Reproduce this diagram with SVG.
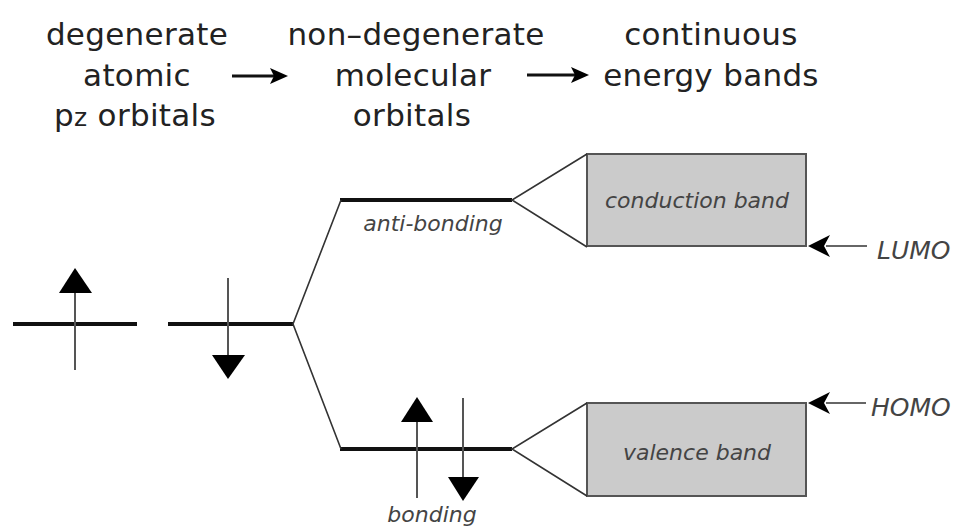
<svg xmlns="http://www.w3.org/2000/svg" width="962" height="529" viewBox="0 0 962 529">
<style>
.hdr{font-family:"DejaVu Sans",sans-serif;font-size:31px;fill:#222;text-anchor:middle;letter-spacing:0.3px}
.lbl{font-family:"DejaVu Sans",sans-serif;font-style:italic;font-size:22px;fill:#444;text-anchor:middle}
.side{font-family:"DejaVu Sans",sans-serif;font-style:italic;font-size:25px;fill:#444}
.level{stroke:#111;stroke-width:4;fill:none}
.thin{stroke:#333;stroke-width:1.6;fill:none}
.spin{stroke:#555;stroke-width:2;fill:none}
.head{fill:#000}
.band{fill:#cbcbcb;stroke:#555;stroke-width:2}
.harrow{stroke:#111;stroke-width:2.8;fill:none}
</style>
<rect width="962" height="529" fill="#fff"/>
<g id="header-atomic">
<text class="hdr" x="137" y="45">degenerate</text>
<text class="hdr" x="137" y="86">atomic</text>
<text class="hdr" x="135" y="126">p<tspan font-size="25">z</tspan> orbitals</text>
</g>
<g id="header-molecular">
<text class="hdr" x="416" y="45">non–degenerate</text>
<text class="hdr" x="413" y="86">molecular</text>
<text class="hdr" x="412" y="126">orbitals</text>
</g>
<g id="header-bands">
<text class="hdr" x="711" y="45">continuous</text>
<text class="hdr" x="711" y="86">energy bands</text>
</g>
<g id="header-arrows">
<line class="harrow" x1="232" y1="76" x2="276" y2="76"/>
<path class="head" d="M288,76 L270,68 L274,76 L270,84 Z"/>
<line class="harrow" x1="527" y1="75" x2="577" y2="75"/>
<path class="head" d="M589,75 L571,67 L575,75 L571,83 Z"/>
</g>
<g id="atomic-1">
<line class="level" x1="13" y1="324" x2="137" y2="324"/>
<line class="spin" x1="75" y1="290" x2="75" y2="370"/>
<path class="head" d="M75,268 L92,293 L59,293 Z"/>
</g>
<g id="atomic-2">
<line class="level" x1="168" y1="324" x2="293" y2="324"/>
<line class="spin" x1="228" y1="278" x2="228" y2="358"/>
<path class="head" d="M212,355 L245,355 L228,379 Z"/>
</g>
<g id="anti-bonding">
<line class="level" x1="340" y1="200" x2="512" y2="200"/>
<text class="lbl" x="433" y="231">anti-bonding</text>
</g>
<g id="bonding">
<line class="level" x1="340" y1="449" x2="512" y2="449"/>
<line class="spin" x1="417" y1="498" x2="417" y2="420"/>
<path class="head" d="M417,397 L433,422 L401,422 Z"/>
<line class="spin" x1="463" y1="398" x2="463" y2="479"/>
<path class="head" d="M448,477 L479,477 L463,501 Z"/>
<text class="lbl" x="432" y="522">bonding</text>
</g>
<g id="conduction-band">
<rect class="band" x="587" y="154" width="219" height="92"/>
<text class="lbl" x="697" y="208" font-size="23">conduction band</text>
</g>
<g id="valence-band">
<rect class="band" x="587" y="403" width="219" height="93"/>
<text class="lbl" x="697" y="460" font-size="23">valence band</text>
</g>
<g id="lumo">
<line class="thin" x1="826" y1="246" x2="867" y2="246"/>
<path class="head" d="M808,246 L830,235 L824,246 L830,257 Z"/>
<text class="side" x="877" y="259">LUMO</text>
</g>
<g id="homo">
<line class="thin" x1="826" y1="403" x2="866" y2="403"/>
<path class="head" d="M808,403 L830,392 L824,403 L830,414 Z"/>
<text class="side" x="871" y="416">HOMO</text>
</g>
<g id="connectors">
<polyline class="thin" points="341,200 293,324 341,449"/>
<polyline class="thin" points="587,154 512,200 587,247"/>
<polyline class="thin" points="587,403 512,449 587,496"/>
</g>
</svg>
